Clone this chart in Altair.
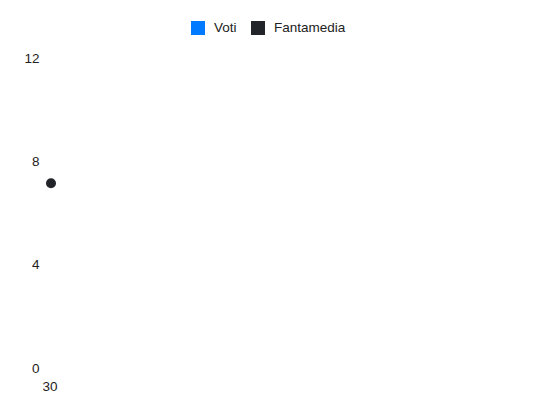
import altair as alt
import pandas as pd

giornate = ["30"]
voti = [None]
fantamedia = [7.15]
series = ["Voti", "Fantamedia"]
colors = ["#007bff", "#212529"]

rows = []
for g, v, f in zip(giornate, voti, fantamedia):
    rows.append({"giornata": g, "serie": "Voti", "valore": v})
    rows.append({"giornata": g, "serie": "Fantamedia", "valore": f})
df = pd.DataFrame(rows)

FONT = "Liberation Sans"
FS = 13.5
TXT = "#222222"

chart = alt.Chart(df).mark_point(filled=True, size=100, opacity=1).encode(
    x=alt.X("giornata:O", title=None,
            scale=alt.Scale(type="point", padding=0, align=0),
            axis=alt.Axis(labelAngle=0, domain=False, ticks=False, grid=False,
                          labelPadding=11, labelFontSize=FS, labelColor=TXT,
                          labelFont=FONT, labelAlign="center", labelOffset=-1.5)),
    y=alt.Y("valore:Q", title=None,
            scale=alt.Scale(domain=[0, 12], nice=False),
            axis=alt.Axis(values=[0, 4, 8, 12], domain=False, ticks=False, grid=False,
                          labelPadding=12, labelFontSize=FS, labelColor=TXT,
                          labelFont=FONT)),
    color=alt.Color("serie:N", title=None,
                    scale=alt.Scale(domain=series, range=colors),
                    legend=alt.Legend(orient="none", legendX=140, legendY=-37,
                                      direction="horizontal", symbolType="square",
                                      symbolSize=196, symbolStrokeWidth=0,
                                      labelFontSize=FS, labelColor=TXT,
                                      labelFont=FONT, columnPadding=14,
                                      labelOffset=9)),
).properties(
    width=480, height=310,
    padding={"left": 43, "top": 50, "right": 10, "bottom": 36},
    autosize=alt.AutoSizeParams(type="none"),
).configure_view(stroke=None)

chart.save("out.html", embed_options={"renderer": "svg", "actions": False})
